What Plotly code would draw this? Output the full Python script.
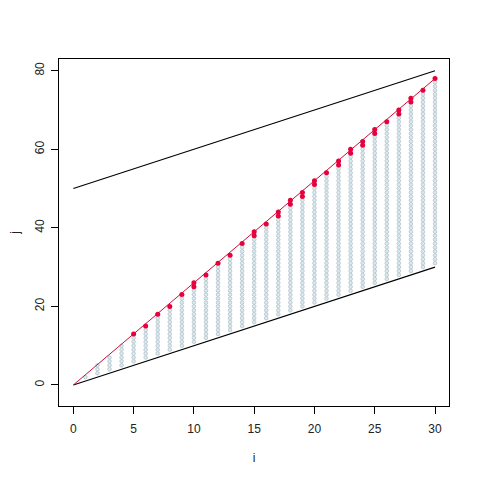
import plotly.graph_objects as go

# column of visited cells for each i (j runs from bottom to top)
col_i = list(range(1, 31))
col_bottom = [2, 3, 4, 5, 6, 7, 8, 9, 10, 11, 12, 13, 14, 15, 16,
              17, 18, 19, 20, 21, 22, 23, 24, 25, 26, 27, 28, 29, 30, 31]
col_top = [2, 5, 7, 10, 13, 15, 18, 20, 23, 26, 28, 31, 33, 36, 39,
           41, 44, 47, 49, 52, 54, 57, 60, 62, 65, 67, 70, 73, 75, 78]

# red points
red_i = [5, 6, 7, 8, 9, 10, 10, 11, 12, 13, 14, 15, 15, 16, 17, 17, 18, 18, 19,
         19, 20, 20, 21, 22, 22, 23, 23, 24, 24, 25, 25, 26, 27, 27, 28, 28, 29, 30]
red_j = [13, 15, 18, 20, 23, 26, 25, 28, 31, 33, 36, 39, 38, 41, 44, 43, 47, 46, 49,
         48, 52, 51, 54, 57, 56, 60, 59, 62, 61, 65, 64, 67, 70, 69, 73, 72, 75, 78]

# lines
line_i = [0, 30]
red_line_j = [0, 78]
low_line_j = [0, 30]
high_line_j = [50, 80]

cell_x, cell_y = [], []
for i, lo, hi in zip(col_i, col_bottom, col_top):
    for j in range(lo, hi + 1):
        cell_x.append(i)
        cell_y.append(j)

fig = go.Figure()

fig.add_trace(go.Scatter(
    x=cell_x, y=cell_y, mode='markers',
    marker=dict(size=3.6, color='#d8ecf2', line=dict(width=0.8, color='#b5c0c8')),
    hoverinfo='skip'))

fig.add_trace(go.Scatter(x=line_i, y=low_line_j, mode='lines',
                         line=dict(color='black', width=1.1)))
fig.add_trace(go.Scatter(x=line_i, y=high_line_j, mode='lines',
                         line=dict(color='black', width=1.1)))
fig.add_trace(go.Scatter(x=line_i, y=red_line_j, mode='lines',
                         line=dict(color='#c8103a', width=1)))
fig.add_trace(go.Scatter(x=red_i, y=red_j, mode='markers',
                         marker=dict(size=5, color='#e8003c')))

axis_style = dict(
    showgrid=False, zeroline=False, showline=True, mirror=True, automargin=False,
    linecolor='black', linewidth=1, ticks='outside', ticklen=7,
    tickcolor='black', tickfont=dict(size=12, color='#222'),
)

# page body has an 8px margin, so the figure is shrunk to fit the window
fig.update_layout(
    width=472, height=472,
    margin=dict(l=51, r=31, t=51, b=74),
    paper_bgcolor='white', plot_bgcolor='white',
    showlegend=False,
    font=dict(family='Liberation Sans, Arial, sans-serif', color='#222'),
    xaxis=dict(range=[-1.19, 31.16], tickvals=[0, 5, 10, 15, 20, 25, 30],
               ticklabelstandoff=5,
               title=dict(text='i', standoff=18, font=dict(size=12, color='#222')),
               **axis_style),
    yaxis=dict(range=[-5.35, 82.97], tickvals=[0, 20, 40, 60, 80], tickangle=-90,
               ticklabelstandoff=2,
               title=dict(text='j', standoff=16, font=dict(size=12, color='#222')),
               **axis_style),
)

fig.write_html("out.html")
